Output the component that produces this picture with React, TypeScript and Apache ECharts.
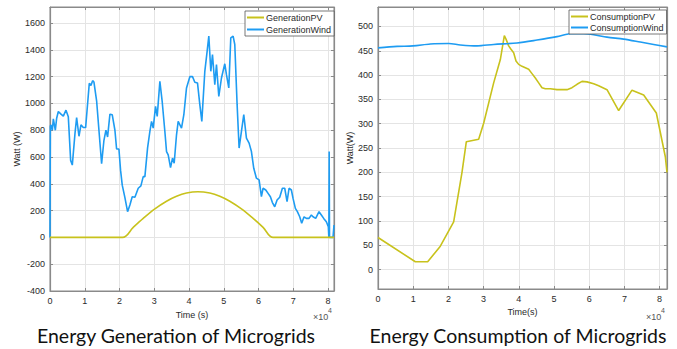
import React, { useEffect, useRef } from "react";
import * as echarts from "echarts";

// ---------- Left chart: Energy Generation ----------
const genWindTime = [
  0, 96, 287, 671, 958, 1533, 1916, 2395, 3161, 3832, 4598, 5269, 5940, 6419, 7185, 7664, 8335, 8909, 9580,
  10251, 10730, 11304, 11783, 12262, 12646, 13412, 14083, 14849, 15520, 16094, 16573, 17244, 17915, 18681,
  19160, 19831, 20310, 20789, 21555, 22321, 22992, 23663, 24429, 25387, 26153, 26824, 27303, 28069, 28740,
  29219, 29698, 30369, 30848, 31614, 32285, 33051, 33530, 34009, 34680, 35254, 35733, 36404, 36883, 37841,
  38512, 39278, 40236, 41002, 41673, 42439, 43110, 43685, 44547, 45218, 45697, 46271, 46750, 47421, 47900,
  48571, 49337, 50295, 50774, 51445, 52019, 52690, 53169, 53840, 54414, 55085, 55756, 56522, 57288, 57959,
  58630, 59396, 60162, 60833, 61312, 62078, 62749, 63420, 63994, 64665, 65336, 66102, 66868, 67539, 68210,
  68784, 69455, 69934, 70605, 71179, 71850, 72425, 73095, 73766, 74532, 75203, 75682, 76448, 77406, 78077,
  78748, 79514, 80089, 80233, 80328, 80424, 81430, 81717,
];
const genWindValue = [
  0, 830, 840, 800, 885, 800, 890, 940, 920, 905, 950, 900, 575, 540, 775, 895, 755, 840, 820,
  820, 970, 1150, 1135, 1170, 1160, 1020, 800, 550, 725, 800, 750, 920, 915, 800,
  660, 660, 500, 390, 297, 192, 242, 304, 300, 367, 385, 454, 454, 667, 791,
  866, 816, 978, 903, 1165, 1013, 791, 641, 616, 521, 592, 554, 766, 866, 816,
  916, 1116, 1200, 1200, 1158, 1153, 991, 866, 1240, 1390, 1503, 1240, 1365, 1141, 1290,
  1053, 1190, 1296, 1215, 1116, 1490, 1503, 1440, 991, 667, 791, 916, 741, 704, 641,
  516, 442, 429, 304, 367, 354, 329, 304, 260, 229, 279, 300, 367, 367, 267,
  367, 354, 291, 217, 192, 154, 105, 154, 142, 142, 167, 154, 142, 192, 167,
  142, 117, 79, 0, 641, 0, 0, 92,
];
const genPVTime = [
  0, 20884, 23950, 26824, 30177, 33530, 36404, 39278, 42535, 45984, 48858, 51732, 55085, 58438, 61312, 64186, 81717,
];
const genPVValue = [0, 0, 75, 142, 213, 270, 307, 331, 341, 331, 307, 270, 213, 142, 75, 0, 0];

// ---------- Right chart: Energy Consumption ----------
const conPVTime = [
  0, 10606, 14110, 17709, 21497, 23864, 25096, 28599, 30020, 32861, 34755, 35891, 36365, 37122, 37785, 38543,
  39206, 39963, 40910, 41857, 42804, 43751, 44698, 45645, 46592, 47539, 48960, 50854, 53695, 55115, 56536,
  57956, 59377, 61271, 62691, 65059, 68373, 72161, 75476, 79075, 81631, 82105,
];
const conPVValue = [
  66, 16, 16, 48, 98, 200, 263, 268, 301, 384, 432, 481, 474, 460, 453, 446,
  429, 422, 418, 415, 412, 403, 394, 384, 374, 372, 372, 370, 370, 374, 381,
  387, 386, 382, 378, 370, 327, 369, 359, 322, 232, 200,
];
const conWindTime = [
  0, 5398, 9944, 14868, 20076, 23391, 28126, 32861, 39490, 45172, 50854, 54642, 58430, 61271, 65059, 69794,
  74529, 78317, 82105,
];
const conWindValue = [456, 459, 460, 464, 465, 462, 460, 463, 466, 472, 479, 485, 485, 483, 478, 474, 468, 463, 458];

const xTicks = [0, 10000, 20000, 30000, 40000, 50000, 60000, 70000, 80000];
const genYTicks = [-400, -200, 0, 200, 400, 600, 800, 1000, 1200, 1400, 1600];
const conYTicks = [0, 50, 100, 150, 200, 250, 300, 350, 400, 450, 500];

const PV_COLOR = "#c8c21c";
const WIND_COLOR = "#1e9cf2";
const AXIS_COLOR = "#8a8a8a";
const GRID_COLOR = "#e4e4e4";
const TEXT_COLOR = "#2a2a2a";
const FONT = "Liberation Sans";

const zip = (a: number[], b: number[]) => a.map((v, i) => [v, b[i]]);

function mainAxis(gridIndex: number, position: string, min: number, max: number, ticks: number[], extra: any = {}) {
  return {
    type: "value",
    gridIndex,
    position,
    min,
    max,
    axisLine: { show: true, onZero: false, lineStyle: { color: AXIS_COLOR, width: 1.2 } },
    axisTick: { show: true, inside: true, length: 3, customValues: ticks, lineStyle: { color: AXIS_COLOR } },
    axisLabel: {
      show: true,
      customValues: ticks,
      fontSize: 9,
      color: TEXT_COLOR,
      fontFamily: FONT,
      margin: 5,
      formatter: (v: number) => String(v),
      ...(extra.axisLabel || {}),
    },
    splitLine: { show: true, lineStyle: { color: GRID_COLOR, width: 1 } },
    ...(extra.rest || {}),
  };
}

function boxAxis(gridIndex: number, position: string, min: number, max: number, ticks: number[]) {
  return {
    type: "value",
    gridIndex,
    position,
    min,
    max,
    axisLine: { show: true, onZero: false, lineStyle: { color: AXIS_COLOR, width: 1.2 } },
    axisTick: { show: true, inside: true, length: 3, customValues: ticks, lineStyle: { color: AXIS_COLOR } },
    axisLabel: { show: false },
    splitLine: { show: false },
  };
}

const xFmt = (v: number) => String(v / 10000);

const legendBase = {
  orient: "vertical",
  icon: "rect",
  itemWidth: 17,
  itemHeight: 2,
  padding: [2, 3, 2, 2],
  borderColor: "#555",
  borderWidth: 0.8,
  borderRadius: 0,
  backgroundColor: "#fff",
  textStyle: { fontSize: 9, color: TEXT_COLOR, fontFamily: FONT, padding: [0, 0, 0, -3] },
};

export default function App() {
  const ref = useRef<HTMLDivElement>(null);
  useEffect(() => {
    const chart = echarts.init(ref.current!, null, { renderer: "svg" });
    const option: any = {
      animation: false,
      backgroundColor: "#ffffff",
      textStyle: { fontFamily: FONT },
      grid: [
        { left: 50, top: 7, width: 284, height: 284, show: true, borderColor: AXIS_COLOR, borderWidth: 1, backgroundColor: "#fff" },
        { left: 378, top: 7, width: 289, height: 282, show: true, borderColor: AXIS_COLOR, borderWidth: 1, backgroundColor: "#fff" },
      ],
      xAxis: [
        mainAxis(0, "bottom", 0, 81717, xTicks, {
          axisLabel: { formatter: xFmt },
          rest: { name: "Time (s)", nameLocation: "middle", nameGap: 19, nameTextStyle: { fontSize: 9, color: TEXT_COLOR, fontFamily: FONT } },
        }),
        boxAxis(0, "top", 0, 81717, xTicks),
        mainAxis(1, "bottom", 0, 82105, xTicks, {
          axisLabel: { formatter: xFmt },
          rest: { name: "Time(s)", nameLocation: "middle", nameGap: 18, nameTextStyle: { fontSize: 9, color: TEXT_COLOR, fontFamily: FONT } },
        }),
        boxAxis(1, "top", 0, 82105, xTicks),
      ],
      yAxis: [
        mainAxis(0, "left", -400, 1720, genYTicks, {
          rest: { name: "Watt (W)", nameLocation: "middle", nameGap: 26, nameTextStyle: { fontSize: 9, color: TEXT_COLOR, fontFamily: FONT } },
        }),
        boxAxis(0, "right", -400, 1720, genYTicks),
        mainAxis(1, "left", -40, 540, conYTicks, {
          rest: { name: "Watt(W)", nameLocation: "middle", nameGap: 20, nameTextStyle: { fontSize: 9, color: TEXT_COLOR, fontFamily: FONT } },
        }),
        boxAxis(1, "right", -40, 540, conYTicks),
      ],
      legend: [
        { ...legendBase, left: 245, top: 11, itemGap: 3, data: ["GenerationPV", "GenerationWind"] },
        { ...legendBase, left: 569, top: 10, itemGap: 2, data: ["ConsumptionPV", "ConsumptionWind"] },
      ],
      series: [
        {
          name: "GenerationPV",
          type: "line",
          xAxisIndex: 0,
          yAxisIndex: 0,
          data: zip(genPVTime, genPVValue),
          symbol: "none",
          smooth: 0.35,
          lineStyle: { color: PV_COLOR, width: 1.6 },
          itemStyle: { color: PV_COLOR },
          z: 3,
        },
        {
          name: "GenerationWind",
          type: "line",
          xAxisIndex: 0,
          yAxisIndex: 0,
          data: zip(genWindTime, genWindValue),
          symbol: "none",
          lineStyle: { color: WIND_COLOR, width: 1.6 },
          itemStyle: { color: WIND_COLOR },
          z: 2,
        },
        {
          name: "ConsumptionPV",
          type: "line",
          xAxisIndex: 2,
          yAxisIndex: 2,
          data: zip(conPVTime, conPVValue),
          symbol: "none",
          lineStyle: { color: PV_COLOR, width: 1.6 },
          itemStyle: { color: PV_COLOR },
        },
        {
          name: "ConsumptionWind",
          type: "line",
          xAxisIndex: 2,
          yAxisIndex: 2,
          data: zip(conWindTime, conWindValue),
          symbol: "none",
          smooth: 0.3,
          lineStyle: { color: WIND_COLOR, width: 1.6 },
          itemStyle: { color: WIND_COLOR },
        },
      ],
      graphic: [
        { type: "text", left: 313, top: 312, style: { text: "×10", fontSize: 9, fill: "#555", fontFamily: FONT } },
        { type: "text", left: 328, top: 307, style: { text: "4", fontSize: 7, fill: "#555", fontFamily: FONT } },
        { type: "text", left: 646, top: 312, style: { text: "×10", fontSize: 9, fill: "#555", fontFamily: FONT } },
        { type: "text", left: 661, top: 307, style: { text: "4", fontSize: 7, fill: "#555", fontFamily: FONT } },
        {
          type: "text",
          x: 176,
          y: 335,
          style: { text: "Energy Generation of Microgrids", fontSize: 19.5, fill: "#111", fontFamily: "Lato", align: "center", verticalAlign: "middle" },
        },
        {
          type: "text",
          x: 518,
          y: 335,
          style: { text: "Energy Consumption of Microgrids", fontSize: 19.5, fill: "#111", fontFamily: "Lato", align: "center", verticalAlign: "middle" },
        },
      ],
    };
    chart.setOption(option);
    return () => chart.dispose();
  }, []);
  return <div ref={ref} style={{ position: "fixed", left: 0, top: 0, width: 677, height: 349 }} />;
}
